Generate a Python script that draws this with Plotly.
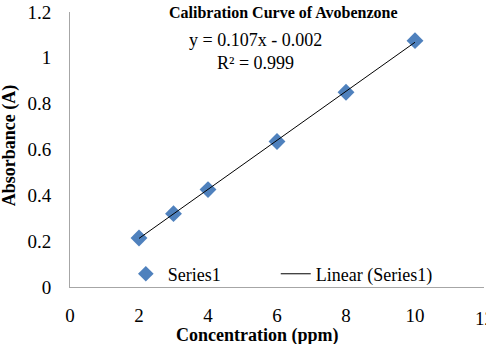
import plotly.graph_objects as go

conc = [2, 3, 4, 6, 8, 10]
absorb = [0.214, 0.32, 0.425, 0.635, 0.85, 1.075]
slope, intercept = 0.107, -0.002
x_ticks = [0, 2, 4, 6, 8, 10, 12]
y_ticks = [0, 0.2, 0.4, 0.6, 0.8, 1, 1.2]
y_tick_text = ["0", "0.2", "0.4", "0.6", "0.8", "1", "1.2"]

fit_x = [min(conc), max(conc)]
fit_y = [slope * v + intercept for v in fit_x]

FONT = "Liberation Serif"

fig = go.Figure()
fig.add_trace(go.Scatter(x=conc, y=absorb, mode="markers", name="Series1",
                         legend="legend",
                         marker=dict(symbol="diamond", size=13, color="#4F81BD")))
fig.add_trace(go.Scatter(x=fit_x, y=fit_y, mode="lines", name="Linear (Series1)",
                         legend="legend2",
                         line=dict(color="black", width=1)))

leg_common = dict(orientation="h", xanchor="left", yanchor="middle",
                  bgcolor="rgba(0,0,0,0)", font=dict(size=18))

fig.update_layout(
    width=486, height=344,
    margin=dict(l=70, r=2, t=12, b=57),
    paper_bgcolor="white", plot_bgcolor="white",
    font=dict(family=FONT, size=18, color="black"),
    showlegend=True,
    legend=dict(x=0.13, y=0.047, itemsizing="constant", itemwidth=34, **leg_common),
    legend2=dict(x=0.497, y=0.047, **leg_common),
    xaxis=dict(range=[0, 12], tickvals=x_ticks, showgrid=False, zeroline=False,
               showline=True, linecolor="#A6A6A6", linewidth=1,
               ticks="outside", ticklen=0, ticklabelstandoff=11,
               tickfont=dict(size=19)),
    yaxis=dict(range=[0, 1.2], tickvals=y_ticks, ticktext=y_tick_text,
               showgrid=False, zeroline=False,
               showline=True, linecolor="#A6A6A6", linewidth=1,
               ticks="outside", ticklen=0, ticklabelstandoff=14,
               tickfont=dict(size=19)),
    annotations=[
        dict(text="<b>Calibration Curve of Avobenzone</b>", x=0.515, y=1.0,
             xref="paper", yref="paper", yanchor="middle", xanchor="center",
             showarrow=False, font=dict(size=16)),
        dict(text="y = 0.107x - 0.002<br>R² = 0.999", x=0.447, y=0.858,
             xref="paper", yref="paper", xanchor="center", yanchor="middle",
             showarrow=False, font=dict(size=18), align="center"),
        dict(text="<b>Concentration (ppm)</b>", x=0.452, y=-0.176, xref="paper",
             yref="paper", xanchor="center", yanchor="middle", showarrow=False,
             font=dict(size=18)),
        dict(text="<b>Absorbance (A)</b>", x=-0.147, y=0.516, xref="paper",
             yref="paper", xanchor="center", yanchor="middle", showarrow=False,
             textangle=-90, font=dict(size=18)),
        dict(text=str(x_ticks[-1]), x=x_ticks[-1], y=-0.113, xref="x",
             yref="paper", xanchor="center", yanchor="middle", showarrow=False,
             font=dict(size=19)),
    ],
)

fig.write_html("out.html")
